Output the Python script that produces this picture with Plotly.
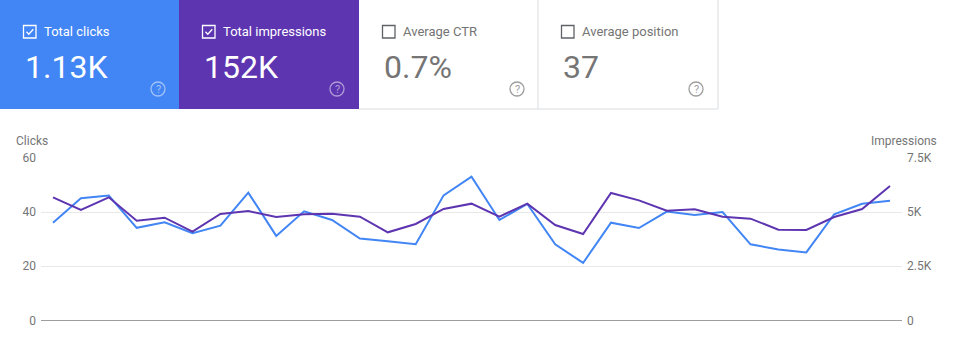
import plotly.graph_objects as go

W, H = 955, 343

days = list(range(31))
clicks = [36.1, 45.1, 46.1, 34.2, 36.2, 32.2, 35.0, 47.2, 31.2, 40.3, 37.1, 30.2, 29.2, 28.1, 46.2, 53.1,
          37.1, 43.0, 28.1, 21.2, 36.1, 34.1, 40.2, 38.9, 40.0, 28.1, 26.2, 25.1, 39.2, 43.1, 44.2]
impressions = [5683, 5097, 5683, 4605, 4743, 4096, 4913, 5051, 4774, 4897, 4928, 4790, 4066, 4451, 5144, 5390,
               4790, 5390, 4405, 3989, 5883, 5544, 5067, 5128, 4790, 4697, 4189, 4174, 4774, 5144, 6206]

card_labels = ["Total clicks", "Total impressions", "Average CTR", "Average position"]
card_values = ["1.13K", "152K", "0.7%", "37"]
card_checked = [True, True, False, False]
card_fill = ["#4285F4", "#5E35B1", "#FFFFFF", "#FFFFFF"]

left_ticks = [0, 20, 40, 60]
right_ticks = [0, 2500, 5000, 7500]
right_ticklabels = ["0", "2.5K", "5K", "7.5K"]

BLUE = "#4285F4"
PURPLE = "#5E35B1"
GRAY = "#757575"


def px(x):
    return x / W


def py(y):
    return 1 - y / H


fig = go.Figure()
fig.add_trace(go.Scatter(x=days, y=clicks, mode="lines", line=dict(color=BLUE, width=2),
                         name="Clicks", yaxis="y"))
fig.add_trace(go.Scatter(x=days, y=impressions, mode="lines", line=dict(color=PURPLE, width=2),
                         name="Impressions", yaxis="y2"))

shapes = []
annotations = []
card_x = [0, 179, 359, 538, 718]
for i in range(4):
    x0, x1 = card_x[i], card_x[i + 1]
    shapes.append(dict(type="rect", xref="paper", yref="paper", x0=px(x0), x1=px(x1), y0=py(109), y1=py(0),
                       fillcolor=card_fill[i], line=dict(width=0), layer="below"))
    dark = card_checked[i]
    box_col = "#FFFFFF" if dark else "#5f6368"
    # checkbox
    bx = x0 + 23.5
    shapes.append(dict(type="rect", xref="paper", yref="paper", x0=px(bx), x1=px(bx + 12.5),
                       y0=py(38), y1=py(25.5), line=dict(color=box_col, width=1.3), fillcolor="rgba(0,0,0,0)"))
    if card_checked[i]:
        path = "M {} {} L {} {} L {} {}".format(px(bx + 3), py(31.8), px(bx + 5.3), py(34.2),
                                                 px(bx + 9.8), py(29.3))
        shapes.append(dict(type="path", xref="paper", yref="paper", path=path,
                           line=dict(color="#FFFFFF", width=1.3)))
    annotations.append(dict(x=px(x0 + 41.5), y=py(31.5), xref="paper", yref="paper", text=card_labels[i],
                            showarrow=False, xanchor="left", yanchor="middle",
                            font=dict(family="Roboto", size=13, color="#FFFFFF" if dark else GRAY)))
    annotations.append(dict(x=px(x0 + 23), y=py(67), xref="paper", yref="paper", text=card_values[i],
                            showarrow=False, xanchor="left", yanchor="middle",
                            font=dict(family="Roboto", size=32, color="#FFFFFF" if dark else GRAY)))
    # help icon
    hc = "rgba(255,255,255,0.5)" if dark else "#9e9e9e"
    cx, cy = x0 + 158, 89
    shapes.append(dict(type="circle", xref="paper", yref="paper", x0=px(cx - 7), x1=px(cx + 7),
                       y0=py(cy + 7), y1=py(cy - 7), line=dict(color=hc, width=1.3)))
    annotations.append(dict(x=px(cx), y=py(cy), xref="paper", yref="paper", text="?",
                            showarrow=False, xanchor="center", yanchor="middle",
                            font=dict(family="Roboto", size=11, color=hc)))

# white card borders
for seg in [(538, 0, 538, 109), (718, 0, 718, 109), (359, 109, 718, 109)]:
    shapes.append(dict(type="line", xref="paper", yref="paper", x0=px(seg[0]), y0=py(seg[1]),
                       x1=px(seg[2]), y1=py(seg[3]), line=dict(color="#dadce0", width=1)))

annotations.append(dict(x=px(14), y=py(141), xref="paper", yref="paper", text="Clicks", showarrow=False,
                        xanchor="left", yanchor="middle", font=dict(family="Roboto", size=12, color=GRAY)))
annotations.append(dict(x=px(939), y=py(141), xref="paper", yref="paper", text="Impressions", showarrow=False,
                        xanchor="right", yanchor="middle", font=dict(family="Roboto", size=12, color=GRAY)))

fig.update_layout(
    width=W, height=H,
    margin=dict(l=0, r=0, t=0, b=0),
    paper_bgcolor="white", plot_bgcolor="white",
    showlegend=False,
    font=dict(family="Roboto", color=GRAY, size=12),
    xaxis=dict(domain=[px(41), px(902)], range=[-0.43, 30.43], showgrid=False, zeroline=False,
               showticklabels=False, ticks="", showline=False, fixedrange=True),
    yaxis=dict(domain=[py(320.3), py(158)], range=[0, 60], tickvals=left_ticks,
               gridcolor="#e8e8e8", gridwidth=1, zeroline=True, zerolinecolor="#9e9e9e", zerolinewidth=1,
               showline=False, ticks="", ticklabelstandoff=4, automargin=False,
               tickfont=dict(family="Roboto", size=12, color=GRAY)),
    yaxis2=dict(overlaying="y", side="right", range=[0, 7500], tickvals=right_ticks,
                ticktext=right_ticklabels, showgrid=False, zeroline=False, showline=False, ticks="",
                ticklabelstandoff=4, automargin=False, anchor="x",
                tickfont=dict(family="Roboto", size=12, color=GRAY)),
    shapes=shapes,
    annotations=annotations,
)

fig.write_html("out.html")
